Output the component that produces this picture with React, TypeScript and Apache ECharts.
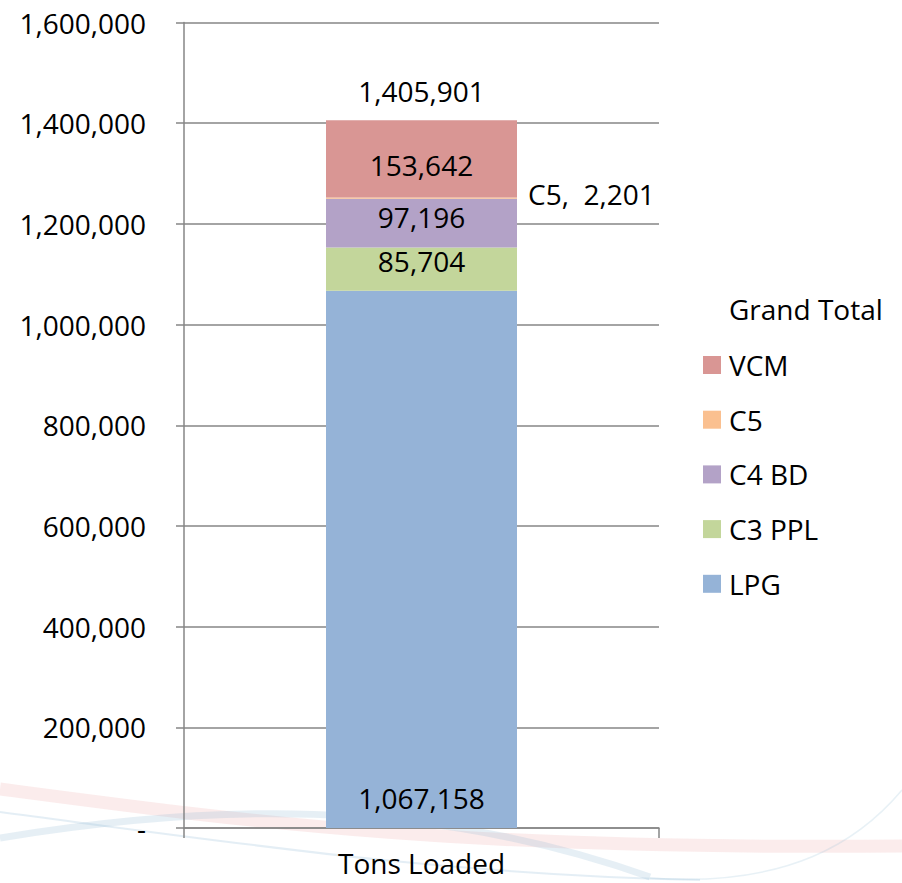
import React, { useEffect, useRef } from "react";
import * as echarts from "echarts";

const categories = ["Tons Loaded"];
const seriesNames = ["LPG", "C3 PPL", "C4 BD", "C5", "VCM"];
const lpg = [1067158];
const c3ppl = [85704];
const c4bd = [97196];
const c5 = [2201];
const vcm = [153642];
const seriesColors = ["#95B3D7", "#C3D69B", "#B3A2C7", "#FAC090", "#D99694"];
const legendOrder = ["VCM", "C5", "C4 BD", "C3 PPL", "LPG"];
const yMax = 1600000;
const yInterval = 200000;

const FONT = "'Open Sans', 'DejaVu Sans', sans-serif";
const fmt = (v: number) => Math.round(v).toLocaleString("en-US");

export default function App() {
  const ref = useRef<HTMLDivElement>(null);
  useEffect(() => {
    if (!ref.current) return;
    const chart = echarts.init(ref.current, null, { renderer: "svg" });
    const values = [lpg, c3ppl, c4bd, c5, vcm];
    const totals = categories.map((_, i) => values.reduce((s, arr) => s + arr[i], 0));
    const labelBase = { color: "#000", fontFamily: FONT, fontSize: 28 };
    const labelCfg: any[] = [
      { show: true, position: "insideBottom", distance: 16, formatter: (p: any) => fmt(p.value) },
      { show: true, position: "inside", offset: [0, -8], formatter: (p: any) => fmt(p.value) },
      { show: true, position: "inside", offset: [0, -6], formatter: (p: any) => fmt(p.value) },
      { show: true, position: "right", distance: 11, offset: [0, -4], formatter: (p: any) => p.seriesName + ",  " + fmt(p.value) },
      { show: true, position: "inside", offset: [0, 6], formatter: (p: any) => fmt(p.value) },
    ];
    const series: any[] = seriesNames.map((name, i) => ({
      name,
      type: "bar",
      stack: "total",
      barWidth: 191,
      data: values[i],
      itemStyle: { color: seriesColors[i] },
      label: { ...labelBase, ...labelCfg[i] },
      emphasis: { disabled: true },
    }));
    series.push({
      name: "Total",
      type: "bar",
      stack: "total",
      barWidth: 191,
      data: categories.map(() => 0),
      itemStyle: { color: "transparent" },
      label: { ...labelBase, show: true, position: "top", distance: 15, formatter: (p: any) => fmt(totals[p.dataIndex]) },
      emphasis: { disabled: true },
    });

    const swoosh = (x1: number, y1: number, cpx1: number, cpy1: number, cpx2: number, cpy2: number, x2: number, y2: number, stroke: string, lineWidth: number) => ({
      type: "bezierCurve",
      silent: true,
      z: -10,
      shape: { x1, y1, cpx1, cpy1, cpx2, cpy2, x2, y2 },
      style: { stroke, lineWidth, fill: "none" },
    });

    chart.setOption({
      animation: false,
      backgroundColor: "#ffffff",
      textStyle: { fontFamily: FONT },
      title: {
        text: "Grand Total",
        left: 729,
        top: 295,
        padding: 0,
        textStyle: { fontFamily: FONT, fontSize: 28, fontWeight: "normal", color: "#000" },
      },
      legend: {
        data: legendOrder,
        orient: "vertical",
        left: 703,
        top: 350,
        padding: 0,
        itemWidth: 18,
        itemHeight: 18,
        itemGap: 24.7,
        icon: "rect",
        selectedMode: false,
        textStyle: { fontFamily: FONT, fontSize: 28, color: "#000", lineHeight: 30, padding: [0, 0, 0, 3] },
      },
      graphic: [
        swoosh(0, 789, 250, 822, 450, 850, 902, 846, "rgba(225,110,110,0.13)", 13),
        swoosh(0, 838, 200, 805, 420, 795, 650, 877, "rgba(150,190,215,0.24)", 7),
        swoosh(0, 812, 250, 845, 450, 875, 700, 880, "rgba(150,190,215,0.26)", 2),
        swoosh(650, 878, 790, 888, 860, 840, 902, 790, "rgba(150,190,215,0.22)", 1.5),
      ],
      grid: { left: 184, right: 243, top: 22.5, bottom: 55, containLabel: false },
      xAxis: {
        type: "category",
        data: categories,
        axisLine: { show: true, lineStyle: { color: "#868686", width: 1.5 } },
        axisTick: { show: true, length: 10, lineStyle: { color: "#868686", width: 1.5 } },
        axisLabel: { color: "#000", fontFamily: FONT, fontSize: 28, lineHeight: 28, margin: 21 },
      },
      yAxis: {
        type: "value",
        min: 0,
        max: yMax,
        interval: yInterval,
        axisLine: { show: true, lineStyle: { color: "#868686", width: 1.5 } },
        axisTick: { show: true, length: 8, lineStyle: { color: "#868686", width: 1.5 } },
        splitLine: { show: true, lineStyle: { color: "#868686", width: 1.5 } },
        axisLabel: {
          color: "#000",
          fontFamily: FONT,
          fontSize: 28,
          margin: 38,
          formatter: (v: number) => (v === 0 ? "-" : fmt(v)),
        },
      },
      series,
    });
    return () => chart.dispose();
  }, []);
  return <div ref={ref} style={{ position: "absolute", left: 0, top: 0, width: 902, height: 883 }} />;
}
